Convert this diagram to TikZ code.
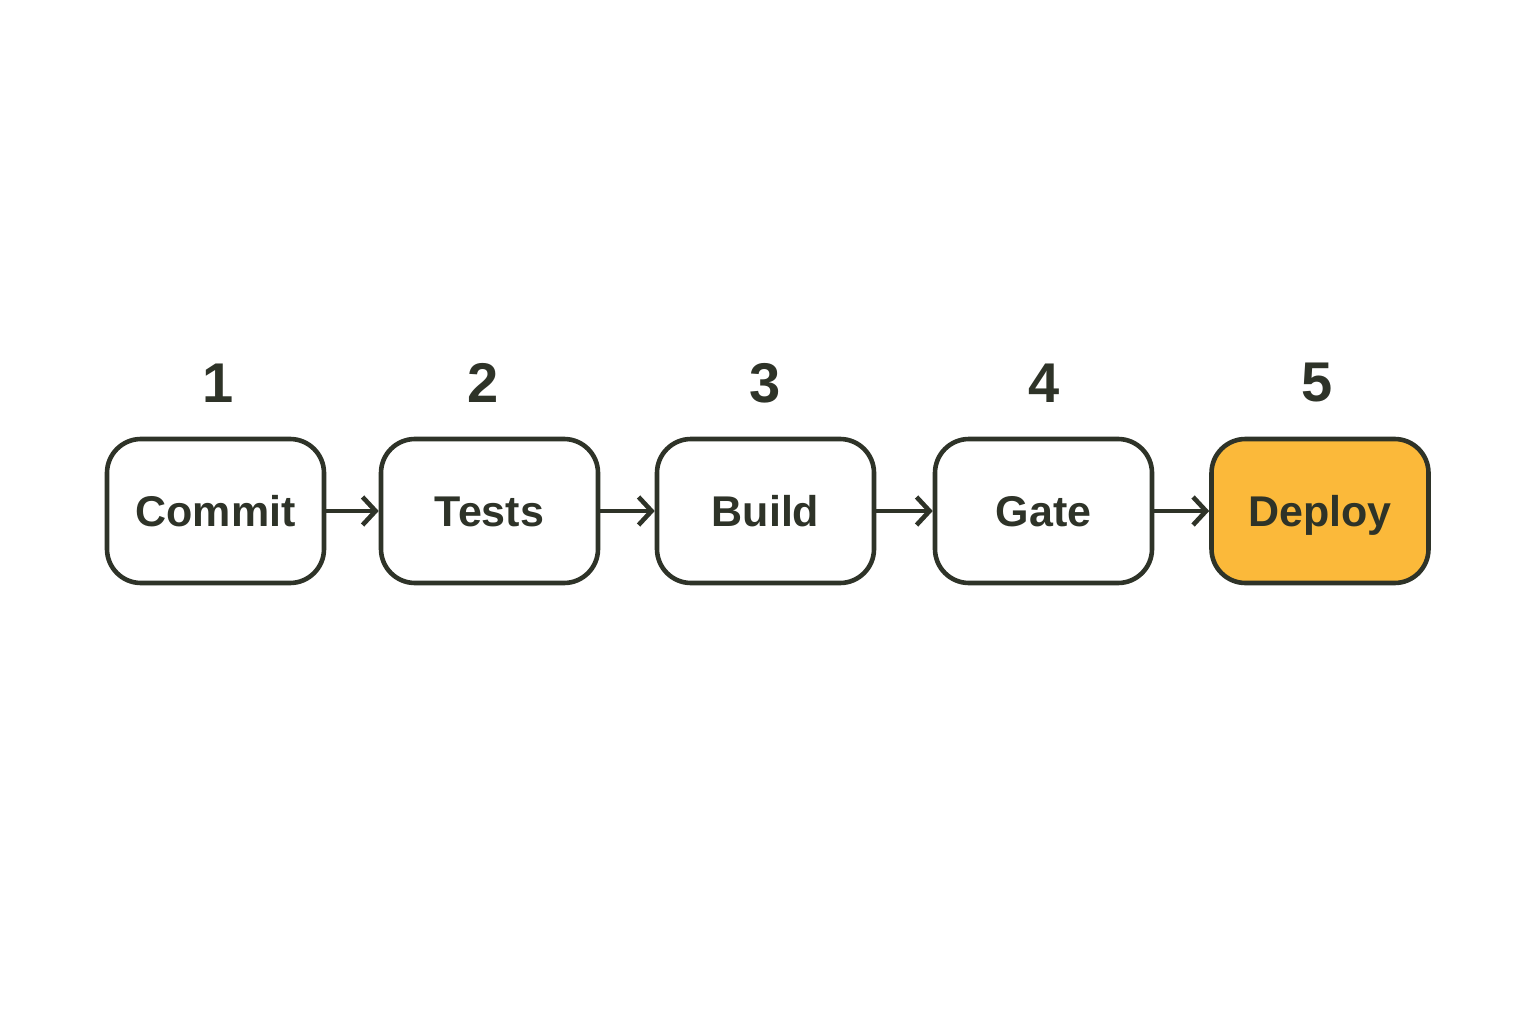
\documentclass[tikz,border=0pt]{standalone}
\usepackage{fontspec}
\setmainfont{Liberation Sans}
\usetikzlibrary{arrows.meta}
\definecolor{ink}{HTML}{2E3328}
\definecolor{gold}{HTML}{FBB93A}
\begin{document}
\begin{tikzpicture}[x=1pt,y=-1pt,
  stage/.style={draw=ink, line width=4.6pt, rounded corners=34pt, minimum width=217pt, minimum height=144pt, inner sep=0pt, fill=white, text=ink, text height=35pt, text depth=5pt, font=\fontsize{43}{50}\selectfont\bfseries},
  num/.style={text=ink, font=\fontsize{56}{60}\selectfont, inner sep=0pt},
  flow/.style={draw=ink, line width=4.6pt, -{Straight Barb[length=13pt,width=28pt,line width=4.6pt]}}]
\useasboundingbox (0,0) rectangle (1536,1024);
\node[stage] (c) at (215.5,511) {Commit};
\node[stage] (t) at (489.5,511) {Tests};
\node[stage] (b) at (765.5,511) {Build};
\node[stage] (g) at (1043.5,511) {Gate};
\node[stage, fill=gold] (d) at (1320,511) {Deploy};
\node[num] (n1) at (218,383) {\textbf{1}};
\node[num] (n2) at (483,383) {\textbf{2}};
\node[num] (n3) at (765,383) {\textbf{3}};
\node[num] (n4) at (1044,383) {\textbf{4}};
\node[num] (n5) at (1317,383) {\textbf{5}};
\draw[flow] (c) -- (t);
\draw[flow] (t) -- (b);
\draw[flow] (b) -- (g);
\draw[flow] (g) -- (d);
\end{tikzpicture}
\end{document}
